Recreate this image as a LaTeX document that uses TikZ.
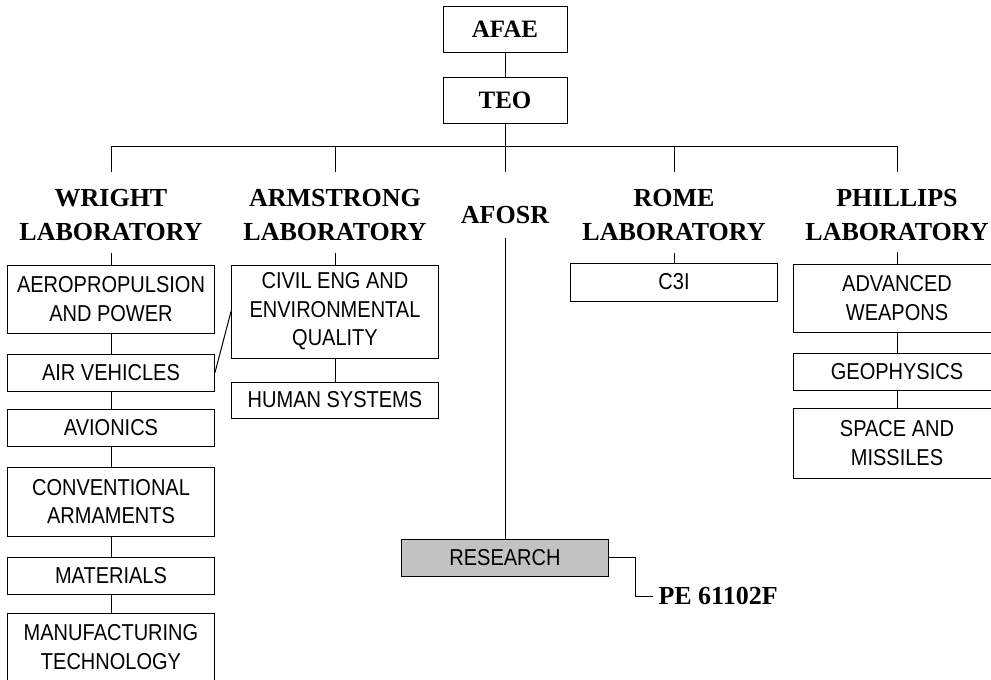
\documentclass[tikz,border=0pt]{standalone}
\usepackage{fontspec}
\setmainfont{Liberation Serif}
\newfontfamily\boxfont[FakeStretch=0.87]{Liberation Sans}
\begin{document}
\begin{tikzpicture}[x=1pt,y=-1pt,line width=1pt,
  topbox/.style={draw,minimum width=124pt,minimum height=46pt,inner sep=0pt,
    font=\bfseries\fontsize{25}{30}\selectfont},
  lab/.style={align=center,inner sep=0pt,font=\bfseries\fontsize{26}{34}\selectfont},
  unit/.style={draw,align=center,inner sep=0pt,minimum width=207pt,
    font=\boxfont\fontsize{23}{28.5}\selectfont},
  shaded/.style={unit,fill=black!24},
  pelab/.style={inner ysep=0pt,inner xsep=5pt,font=\bfseries\fontsize{26}{30}\selectfont}]
\clip (0,0) rectangle (991,680);
% top
\node[topbox] (afae) at (505,29) {AFAE};
\node[topbox] (teo) at (505,100) {TEO};
% labels
\node[lab] (wlab) at (111,215) {WRIGHT\\LABORATORY};
\node[lab] (alab) at (335,215) {ARMSTRONG\\LABORATORY};
\node[lab] (olab) at (505,215) {AFOSR};
\node[lab] (rlab) at (674,215) {ROME\\LABORATORY};
\node[lab] (plab) at (897,215) {PHILLIPS\\LABORATORY};
% bus
\coordinate (wd) at (111,172);
\coordinate (ad) at (335,172);
\coordinate (od) at (505,172);
\coordinate (rd) at (674,172);
\coordinate (pd) at (897,172);
\coordinate (bus) at (505,146);
\draw (afae) -- (teo);
\draw (teo) -- (od);
\draw (wd) -- (wd |- bus) -- (pd |- bus) -- (pd);
\draw (ad) -- (ad |- bus);
\draw (rd) -- (rd |- bus);
% Wright
\node[unit,minimum height=68pt] (aero) at (111,299) {AEROPROPULSION\\AND POWER};
\node[unit,minimum height=37pt] (airv) at (111,372.5) {AIR VEHICLES};
\node[unit,minimum height=37pt] (avio) at (111,427.5) {AVIONICS};
\node[unit,minimum height=69pt] (conv) at (111,501.5) {CONVENTIONAL\\ARMAMENTS};
\node[unit,minimum height=37pt] (mat) at (111,575.5) {MATERIALS};
\node[unit,minimum height=68pt] (manu) at (111,647) {MANUFACTURING\\TECHNOLOGY};
\draw (aero.north) -- ++(0,-12);
\draw (aero) -- (airv);
\draw (airv) -- (avio);
\draw (avio) -- (conv);
\draw (conv) -- (mat);
\draw (mat) -- (manu);
% Armstrong
\node[unit,minimum height=93pt] (civil) at (335,311.5) {CIVIL ENG AND\\ENVIRONMENTAL\\QUALITY};
\node[unit,minimum height=36pt] (human) at (335,400) {HUMAN SYSTEMS};
\draw (civil.north) -- ++(0,-12);
\draw (civil) -- (human);
\draw (airv.east) -- (civil.west);
% Rome
\node[unit,minimum height=38pt] (c3i) at (674,282) {C3I};
\draw (c3i.north) -- ++(0,-10);
% Phillips
\node[unit,minimum height=68pt] (adv) at (897,298) {ADVANCED\\WEAPONS};
\node[unit,minimum height=37pt] (geo) at (897,371.5) {GEOPHYSICS};
\node[unit,minimum height=70pt] (space) at (897,443) {SPACE AND\\MISSILES};
\draw (adv.north) -- ++(0,-12);
\draw (adv) -- (geo);
\draw (geo) -- (space);
% AFOSR research
\node[shaded,minimum height=37pt] (research) at (505,557.5) {RESEARCH};
\coordinate (ob) at (505,238);
\draw (ob) -- (research);
\node[pelab,anchor=west] (pe) at (653,596) {PE 61102F};
\draw (research.east) -- ++(26,0) |- (pe.west);
\end{tikzpicture}
\end{document}
